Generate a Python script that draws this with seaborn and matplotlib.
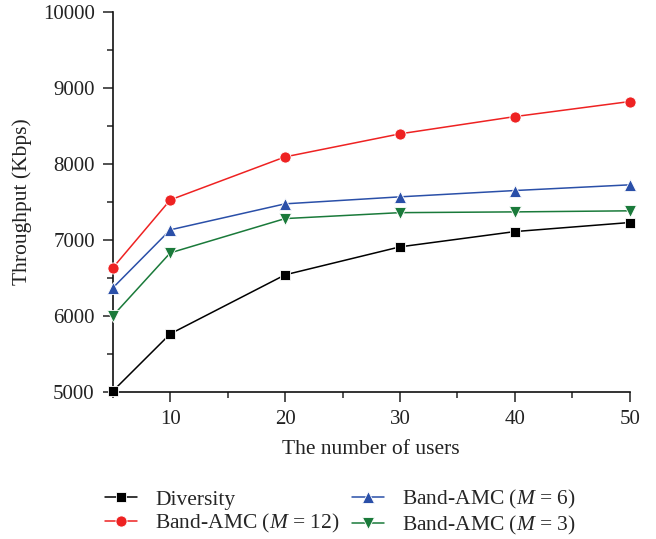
import matplotlib
matplotlib.use("Agg")
import matplotlib.pyplot as plt
import seaborn as sns
import pandas as pd
from matplotlib.ticker import MultipleLocator

users = [5, 10, 20, 30, 40, 50]
diversity = [5010, 5763, 6540, 6908, 7109, 7228]
amc12 = [6632, 7526, 8092, 8395, 8622, 8820]
amc6 = [6368, 7132, 7474, 7566, 7649, 7724]
amc3 = [6000, 6829, 7280, 7358, 7368, 7382]

labels = ["Diversity", "Band-AMC ($M$ = 12)", "Band-AMC ($M$ = 6)", "Band-AMC ($M$ = 3)"]
series = [diversity, amc12, amc6, amc3]
colors = ["#000000", "#ee2222", "#2a4fa8", "#1a7a3a"]
markers = ["s", "o", "^", "v"]

sns.set_theme(style="ticks")
plt.rcParams["font.family"] = ["Liberation Serif", "DejaVu Serif"]
plt.rcParams["mathtext.fontset"] = "custom"
plt.rcParams["mathtext.it"] = "Liberation Serif:italic"
plt.rcParams["mathtext.rm"] = "Liberation Serif"

fig = plt.figure(figsize=(6.56, 5.39), dpi=100)
ax = fig.add_axes([0.172, 0.273, 0.788, 0.705])

for lab, vals, c, m in zip(labels, series, colors, markers):
    df = pd.DataFrame({"users": users, "thr": vals})
    sns.lineplot(data=df, x="users", y="thr", ax=ax, color=c, marker=m,
                 markersize=8.5 if m in "^v" else (8 if m == "o" else 7),
                 markeredgecolor="white", markeredgewidth=0.6, linewidth=1.1,
                 label=lab, clip_on=False, zorder=3, legend=False)

ax.set_xlim(5, 50)
ax.set_ylim(5000, 10000)
ax.set_xticks([10, 20, 30, 40, 50])
ax.xaxis.set_minor_locator(MultipleLocator(5))
ax.yaxis.set_major_locator(MultipleLocator(1000))
ax.yaxis.set_minor_locator(MultipleLocator(500))
ax.tick_params(axis="both", which="major", length=7, width=1.1, labelsize=15,
               colors="#222222", pad=6)
ax.tick_params(axis="both", which="minor", length=4, width=1.1)
for s in ["top", "right"]:
    ax.spines[s].set_visible(False)
for s in ["left", "bottom"]:
    ax.spines[s].set_linewidth(1.2)
    ax.spines[s].set_color("#111111")
ax.set_xlabel("The number of users", fontsize=15.5, labelpad=8, color="#222222")
ax.set_ylabel("Throughput (Kbps)", fontsize=15.5, labelpad=8, color="#222222")

handles = ax.get_lines()
fig.legend(handles, labels, loc="upper left", bbox_to_anchor=(0.16, 0.0946), ncol=2,
           frameon=False, fontsize=15.5, handlelength=1.5, columnspacing=0.55,
           labelspacing=0.12, handletextpad=0.84, borderpad=0, borderaxespad=0)

fig.savefig("out.png", dpi=100)
